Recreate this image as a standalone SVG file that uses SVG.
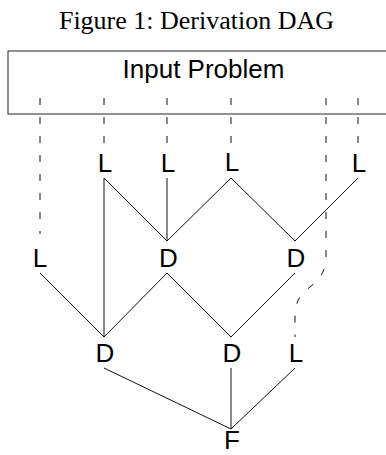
<svg xmlns="http://www.w3.org/2000/svg" width="386" height="455" viewBox="0 0 386 455">
<style>
.t{font-family:"Liberation Sans",Arial,sans-serif;font-size:26px;fill:#000;text-anchor:middle}
.title{font-family:"Liberation Serif","Times New Roman",serif;font-size:26px;fill:#000;text-anchor:middle}
.e{stroke:#111;stroke-width:1;fill:none}
.d{stroke:#111;stroke-width:1;fill:none;stroke-dasharray:7 12}
</style>
<rect width="386" height="455" fill="#fff"/>
<text class="title" x="196.5" y="28.5">Figure 1: Derivation DAG</text>
<g id="input">
<rect x="8" y="51" width="391" height="63" fill="none" stroke="#222" stroke-width="1"/>
<text class="t" x="203.5" y="78">Input Problem</text>
</g>
<g id="connectors">
<path class="d" d="M40 98V234"/>
<path class="d" d="M104 98V143"/>
<path class="d" d="M167 98V143"/>
<path class="d" d="M231 98V143"/>
<path class="d" d="M358 98V143"/>
<path class="d" d="M326 98V255C326 292 295 282 295 316V337"/>
<path class="e" d="M104 178V337"/>
<path class="e" d="M104 178L167 241"/>
<path class="e" d="M167 178V241"/>
<path class="e" d="M231 178L167 241"/>
<path class="e" d="M231 178L295 241"/>
<path class="e" d="M358 178L295 241"/>
<path class="e" d="M40 273L104 337"/>
<path class="e" d="M167 273L104 337"/>
<path class="e" d="M167 273L231 337"/>
<path class="e" d="M295 273L231 337"/>
<path class="e" d="M104 368L231 429"/>
<path class="e" d="M231 368V429"/>
<path class="e" d="M295 368L231 429"/>
</g>
<g id="L1"><text class="t" x="105" y="172">L</text></g>
<g id="L2"><text class="t" x="168" y="172">L</text></g>
<g id="L3"><text class="t" x="232" y="171">L</text></g>
<g id="L4"><text class="t" x="359" y="172">L</text></g>
<g id="L5"><text class="t" x="40" y="267">L</text></g>
<g id="D1"><text class="t" x="168.5" y="267">D</text></g>
<g id="D2"><text class="t" x="296" y="267">D</text></g>
<g id="D3"><text class="t" x="105" y="362">D</text></g>
<g id="D4"><text class="t" x="232" y="362">D</text></g>
<g id="L6"><text class="t" x="296" y="362">L</text></g>
<g id="F"><text class="t" x="232" y="449">F</text></g>
</svg>
